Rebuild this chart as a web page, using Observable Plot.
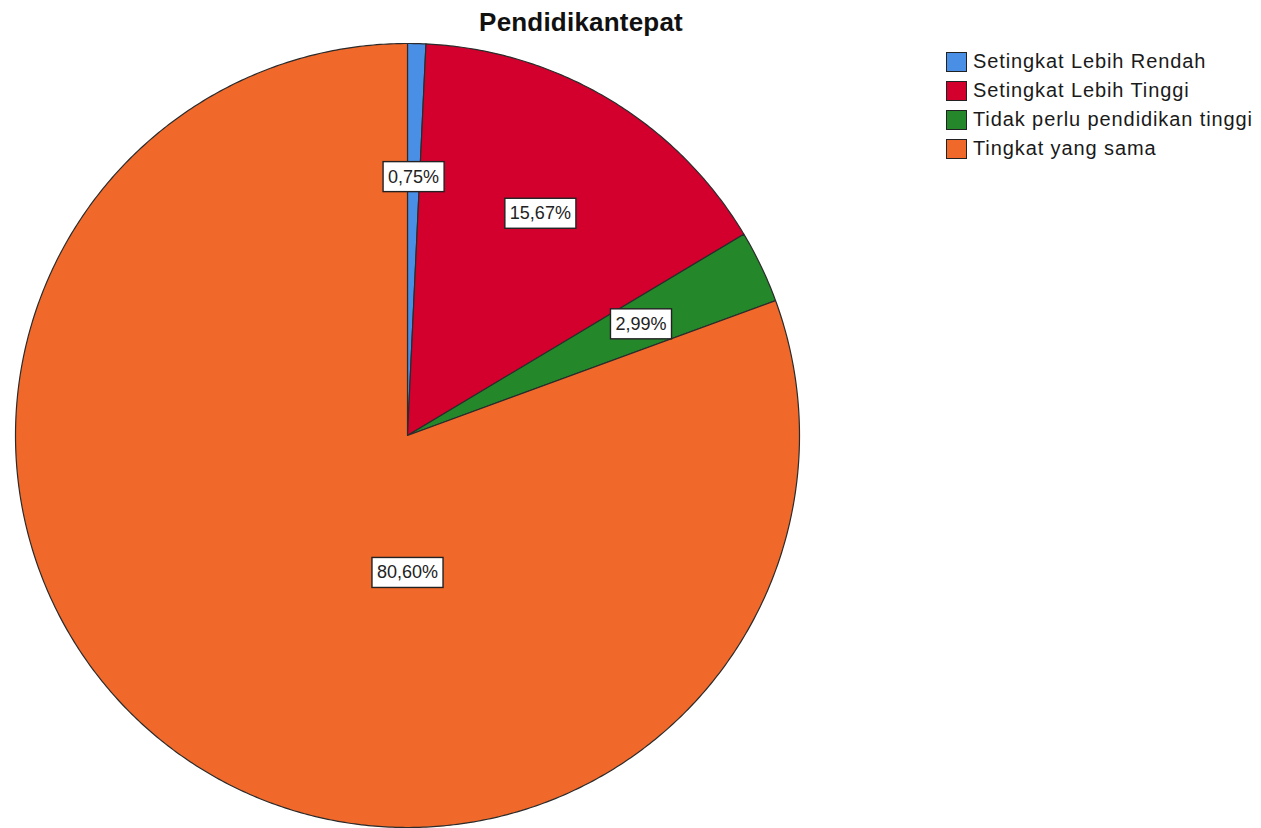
<!DOCTYPE html>
<html>
<head>
<meta charset="utf-8">
<script src="https://cdn.jsdelivr.net/npm/d3@7"></script>
<script src="https://cdn.jsdelivr.net/npm/@observablehq/plot@0.6"></script>
<style>
  html, body { margin: 0; padding: 0; background: #fff; }
  #wrap { position: relative; width: 1261px; height: 828px; overflow: hidden; font-family: "Liberation Sans", Arial, sans-serif; }
  #title { position: absolute; left: 581px; top: 7px; transform: translateX(-50%); font-weight: bold; font-size: 26px; line-height: 30px; color: #111; white-space: nowrap; z-index: 2; letter-spacing: 0.2px; }
  #legend { position: absolute; left: 946px; top: 47px; z-index: 2; }
  .row { display: flex; align-items: center; height: 29px; }
  .sw { width: 21px; height: 20px; border: 1.5px solid #222; box-sizing: border-box; margin-right: 6px; }
  .lab { font-size: 20px; letter-spacing: 0.9px; color: #1a1a1a; white-space: nowrap; }
  #chart { position: absolute; left: 0; top: 0; }
</style>
</head>
<body>
<div id="wrap">
  <div id="title">Pendidikantepat</div>
  <div id="legend"></div>
  <div id="chart"></div>
</div>
<script>
const chartTitle = "Pendidikantepat";
const categories = ["Setingkat Lebih Rendah", "Setingkat Lebih Tinggi", "Tidak perlu pendidikan tinggi", "Tingkat yang sama"];
const percents = [0.75, 15.67, 2.99, 80.60];
const valueLabels = ["0,75%", "15,67%", "2,99%", "80,60%"];
const colors = ["#4a8fe6", "#d3002e", "#24882b", "#f0692a"];

document.getElementById("title").textContent = chartTitle;

// legend
const legend = document.getElementById("legend");
categories.forEach((c, i) => {
  const row = document.createElement("div");
  row.className = "row";
  const sw = document.createElement("div");
  sw.className = "sw";
  sw.style.background = colors[i];
  const lab = document.createElement("div");
  lab.className = "lab";
  lab.textContent = c;
  row.appendChild(sw); row.appendChild(lab);
  legend.appendChild(row);
});

// pie geometry in unit-radius data space (angles clockwise from top)
const total = d3.sum(percents);
const arcs = d3.pie().sort(null).value(d => d)(percents);
const pts = [];
const labels = [];
arcs.forEach((a, i) => {
  const cat = categories[i];
  pts.push({cat, x: 0, y: 0});
  const n = Math.max(2, Math.ceil((a.endAngle - a.startAngle) / (Math.PI / 360)));
  for (let k = 0; k <= n; k++) {
    const t = a.startAngle + (a.endAngle - a.startAngle) * k / n;
    pts.push({cat, x: Math.sin(t), y: Math.cos(t)});
  }
  pts.push({cat, x: 0, y: 0});
  const share = percents[i] / total;
  const mid = share > 0.5 ? Math.PI : (a.startAngle + a.endAngle) / 2;
  const r = share > 0.5 ? 0.35 : 0.66;
  labels.push({text: valueLabels[i], x: r * Math.sin(mid), y: r * Math.cos(mid)});
});

const plot = Plot.plot({
  width: 1261,
  height: 828,
  margin: 0,
  x: {domain: [-1, 1], range: [15, 799], axis: null},
  y: {domain: [-1, 1], range: [827, 43], axis: null},
  color: {domain: categories, range: colors},
  style: {background: "transparent", fontFamily: "Liberation Sans, Arial, sans-serif"},
  marks: [
    Plot.line(pts, {x: "x", y: "y", z: "cat", fill: "cat", stroke: "#2b2b2b", strokeWidth: 1.2, curve: "linear"}),
    Plot.text(labels, {x: "x", y: "y", text: "text", fontSize: 18, fill: "#222", className: "vlabel"})
  ]
});
document.getElementById("chart").appendChild(plot);

// white boxes with dark border behind value labels
plot.querySelectorAll("g.vlabel text, .vlabel text").forEach(t => {
  const b = t.getBBox();
  const rect = document.createElementNS("http://www.w3.org/2000/svg", "rect");
  const px = 5, py = 5;
  rect.setAttribute("x", b.x - px);
  rect.setAttribute("y", b.y - py);
  rect.setAttribute("width", b.width + 2 * px);
  rect.setAttribute("height", b.height + 2 * py);
  rect.setAttribute("fill", "#fff");
  rect.setAttribute("stroke", "#222");
  rect.setAttribute("stroke-width", "1.4");
  const tr = t.getAttribute("transform");
  if (tr) rect.setAttribute("transform", tr);
  t.parentNode.insertBefore(rect, t);
});
</script>
</body>
</html>
